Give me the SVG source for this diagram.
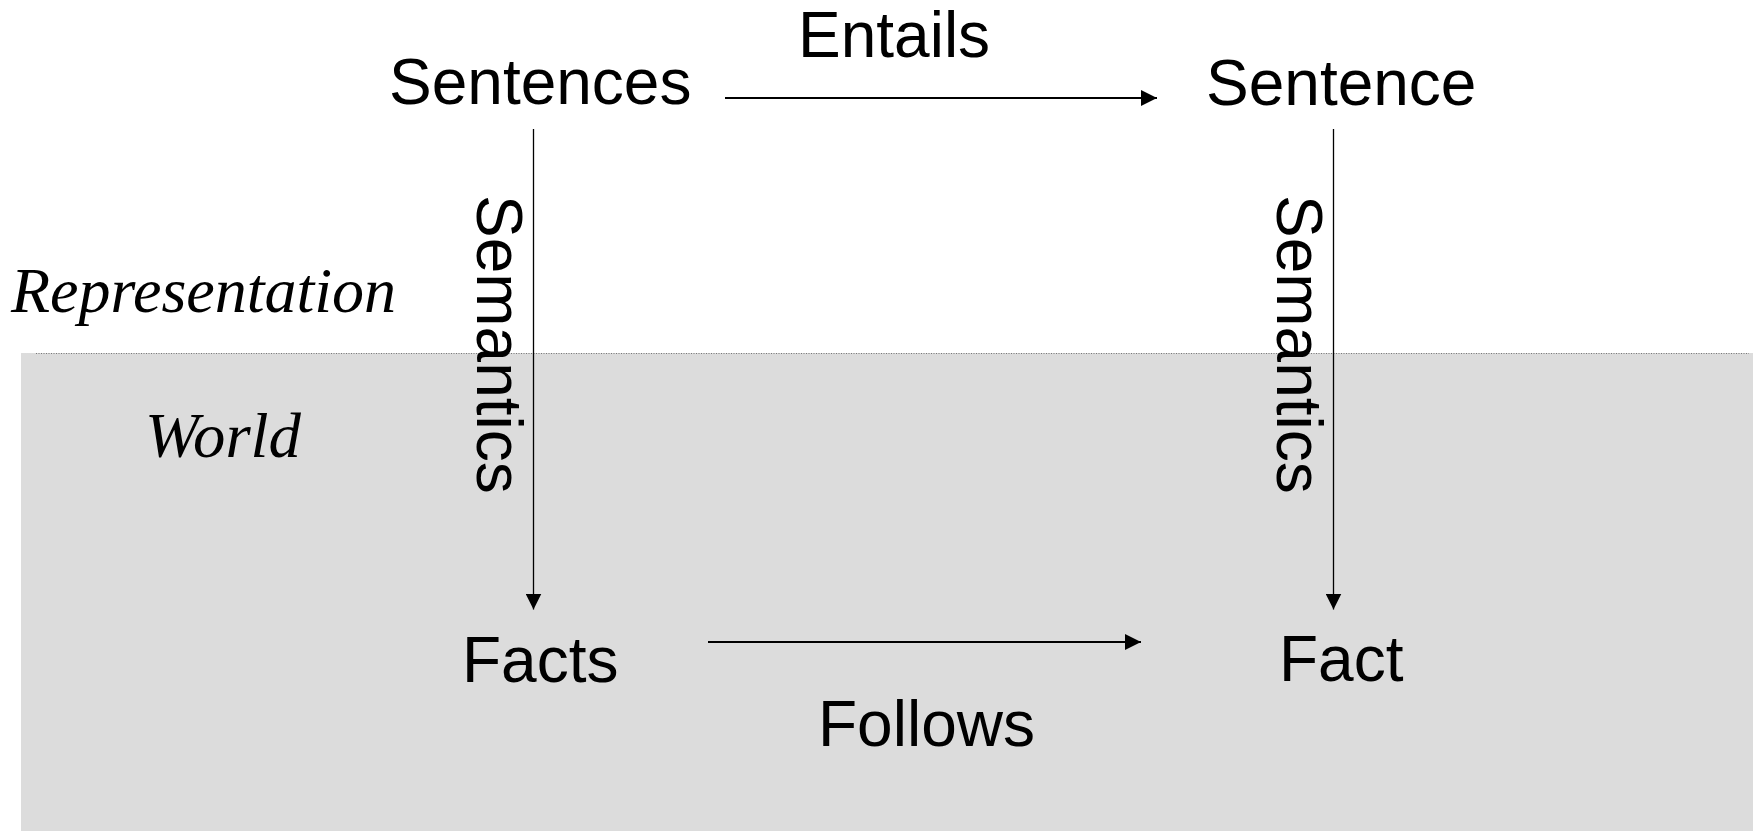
<svg xmlns="http://www.w3.org/2000/svg" width="1753" height="831" viewBox="0 0 1753 831">
  <style>
    .lbl { font-family: "Liberation Sans", Arial, sans-serif; font-size: 64px; fill: #000; }
    .realm { font-family: "Liberation Serif", "Times New Roman", serif; font-style: italic; font-size: 64px; fill: #000; }
    .thin { stroke: #000; stroke-width: 1.3; fill: none; }
    .thick { stroke: #000; stroke-width: 2; fill: none; }
  </style>
  <defs>
    <marker id="head" viewBox="0 0 16 16" refX="16" refY="8" markerWidth="16" markerHeight="16" markerUnits="userSpaceOnUse" orient="auto">
      <path d="M0,0 L16,8 L0,16 Z" fill="#000"/>
    </marker>
  </defs>

  <rect width="1753" height="831" fill="#fff"/>

  <!-- lower band: the world -->
  <g id="world-band">
    <rect x="21" y="353" width="1732" height="478" fill="#dcdcdc"/>
    <line x1="36" y1="353.5" x2="1749" y2="353.5" stroke="#777" stroke-width="1" stroke-dasharray="1 1.5"/>
  </g>

  <g id="realm-labels">
    <text class="realm" x="11" y="312" textLength="385" lengthAdjust="spacingAndGlyphs">Representation</text>
    <text class="realm" x="145" y="457" textLength="156" lengthAdjust="spacingAndGlyphs">World</text>
  </g>

  <g id="connectors">
    <line class="thick" x1="725" y1="98" x2="1157" y2="98" marker-end="url(#head)"/>
    <line class="thick" x1="708" y1="642" x2="1141" y2="642" marker-end="url(#head)"/>
    <line class="thin" x1="533.5" y1="129" x2="533.5" y2="609.5" marker-end="url(#head)"/>
    <line class="thin" x1="1333.5" y1="129" x2="1333.5" y2="609.5" marker-end="url(#head)"/>
    <text class="lbl" x="798" y="57">Entails</text>
    <text class="lbl" x="818" y="746">Follows</text>
    <text class="lbl" transform="translate(477,195) rotate(90)">Semantics</text>
    <text class="lbl" transform="translate(1277,195) rotate(90)">Semantics</text>
  </g>

  <g id="node-sentences">
    <text class="lbl" x="389" y="104">Sentences</text>
  </g>
  <g id="node-sentence">
    <text class="lbl" x="1206" y="105">Sentence</text>
  </g>
  <g id="node-facts">
    <text class="lbl" x="462" y="682">Facts</text>
  </g>
  <g id="node-fact">
    <text class="lbl" x="1279" y="681">Fact</text>
  </g>
</svg>
